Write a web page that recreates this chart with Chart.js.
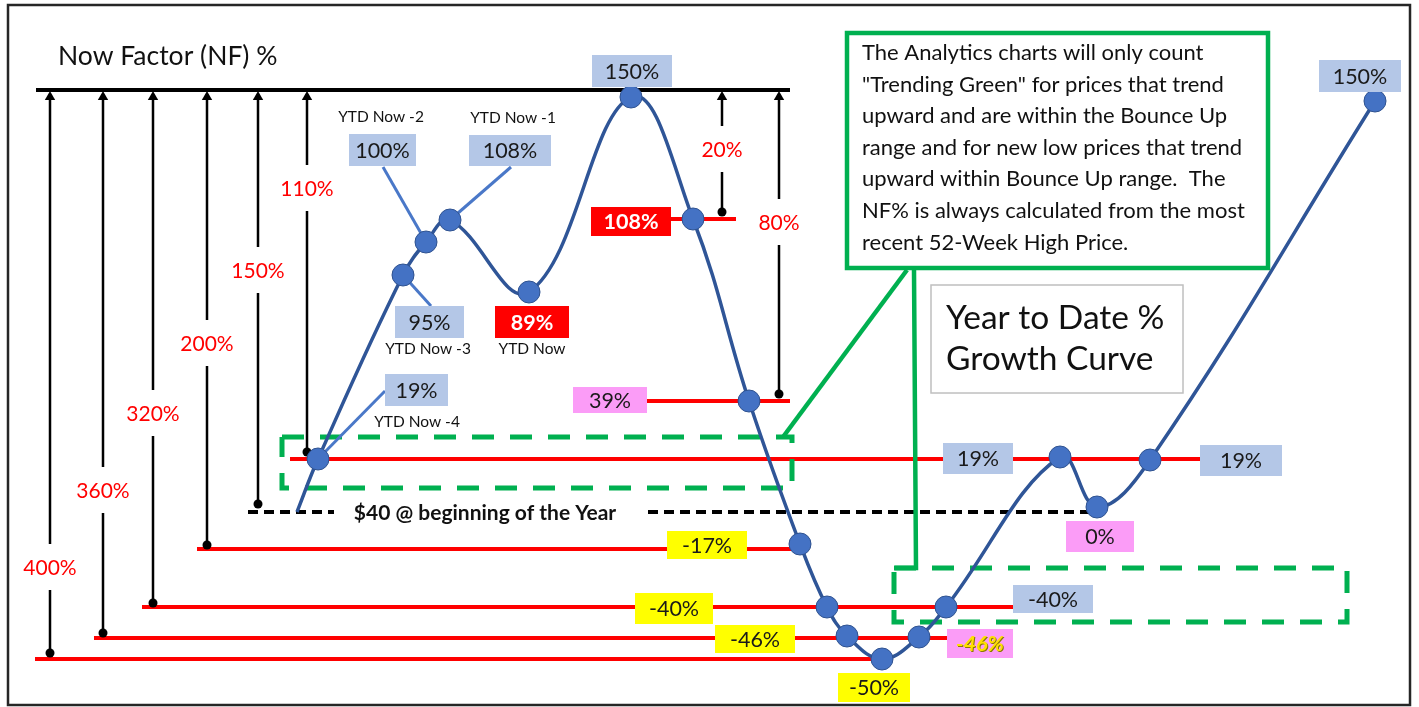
<!DOCTYPE html>
<html>
<head>
<meta charset="utf-8">
<script src="https://cdn.jsdelivr.net/npm/chart.js@4.4.1/dist/chart.umd.min.js"></script>
<style>
  html, body { margin: 0; padding: 0; background: #fff; }
  #wrap { width: 1419px; height: 707px; }
</style>
</head>
<body>
<div id="wrap"><canvas id="nfChart" width="1419" height="707"></canvas></div>
<script>
// YTD growth curve (x = time along the year, y = level on the sheet)
const curveX = [297, 318, 403, 426, 450, 529, 631, 693, 749, 800, 827, 847, 882, 919, 946, 1060, 1097, 1150, 1375];
const curveY = [512, 459, 275, 242, 220, 292, 97, 219, 401, 544, 607, 636, 659, 637, 607, 457, 507, 460, 101];
const curveMarked = [0, 1, 1, 1, 1, 1, 1, 1, 1, 1, 1, 1, 1, 1, 1, 1, 1, 1, 1];

// NF reference levels (red lines)
const levelNames = ['-50%', '-46%', '-40%', '-17%', '19%', '39%', '108%'];
const levelY = [659, 638, 607, 549, 459, 401, 219];
const levelFrom = [35, 94, 142, 197, 290, 647, 671];
const levelTo = [882, 947, 1013, 800, 1200, 790, 736];

// NF arrows up to the 52-week high line
const arrowNames = ['400%', '360%', '320%', '200%', '150%', '110%', '20%', '80%'];
const arrowX = [50, 103, 153, 207, 258, 307, 722, 779];
const arrowFrom = [653, 633, 603, 545, 504, 452, 212, 394];
const arrowLabelY = [567, 490, 413, 343, 270, 188, 149, 222];
const highY = 90;
const highFrom = 36, highTo = 790;

// $40 start of the year
const startY = 512;
const startFrom = 248, startTo = 1090;
const startText = '$40 @ beginning of the Year';

// value tags on the curve
const tagText = ['150%', '100%', '108%', '95%', '19%', '89%', '108%', '39%', '-17%', '-40%', '-46%', '-50%', '-46%', '-40%', '19%', '0%', '19%', '150%'];
const tagKind = ['blue', 'blue', 'blue', 'blue', 'blue', 'red', 'red', 'pink', 'yellow', 'yellow', 'yellow', 'yellow', 'pinkItalic', 'blue', 'blue', 'pink', 'blue', 'blue'];

const ytdText = ['YTD Now -2', 'YTD Now -1', 'YTD Now -3', 'YTD Now', 'YTD Now -4'];

const noteLines = [
  'The Analytics charts will only count',
  '"Trending Green" for prices that trend',
  'upward and are within the Bounce Up',
  'range and for new low prices that trend',
  'upward within Bounce Up range.  The',
  'NF% is always calculated from the most',
  'recent 52-Week High Price.'
];
const titleText = 'Now Factor (NF) %';
const growthText = ['Year to Date %', 'Growth Curve'];

// ---- layout (boxes, leader lines) ----
const tagBoxes = [
  [592, 55, 672, 87], [349, 134, 416, 166], [469, 135, 551, 166], [395, 306, 464, 338],
  [385, 374, 448, 406], [495, 306, 569, 338], [591, 207, 671, 236], [573, 387, 647, 413],
  [667, 531, 747, 559], [635, 593, 713, 624], [715, 625, 795, 653], [838, 673, 910, 702],
  [947, 629, 1013, 658], [1013, 585, 1093, 613], [943, 443, 1013, 474], [1066, 521, 1134, 552],
  [1200, 445, 1282, 476], [1319, 60, 1401, 92]
];
const ytdPos = [[381, 117], [513, 118], [428, 349], [532, 349], [417, 422]];
const leaders = [
  [[383, 167], [426, 242]], [[511, 167], [450, 220]],
  [[403, 275], [431, 306]], [[385, 391], [318, 459]]
];
const dashedBoxes = [[282, 437, 792, 488], [894, 568, 1347, 622]];
const noteBox = [847, 33, 1268, 268];
const growthBox = [931, 285, 1183, 393];

const FONT = 'Lato, "Open Sans", "DejaVu Sans", sans-serif';
const GREEN = '#00b050';
const tagStyle = {
  blue: { bg: '#b4c7e7', fg: '#1a1a1a', font: '21.5px ' + FONT },
  red: { bg: '#ff0000', fg: '#ffffff', font: 'bold 21.5px ' + FONT },
  pink: { bg: '#fb9cf7', fg: '#1a1a1a', font: '21.5px ' + FONT },
  yellow: { bg: '#ffff00', fg: '#1a1a1a', font: '21.5px ' + FONT },
  pinkItalic: { bg: '#fb9cf7', fg: '#ffe000', font: 'italic bold 21.5px ' + FONT }
};

const pts = (xs, ys) => xs.map((x, i) => ({ x: x, y: ys[i] }));
const datasets = [];

// curve on top
datasets.push({
  data: pts(curveX, curveY),
  showLine: true,
  tension: 0.4,
  borderColor: '#2f5597',
  borderWidth: 3.5,
  pointRadius: curveMarked.map(m => m ? 11 : 0),
  pointBackgroundColor: '#4472c4',
  pointBorderColor: '#2f528f',
  pointBorderWidth: 1,
  order: 0
});

leaders.forEach(l => datasets.push({
  data: l.map(p => ({ x: p[0], y: p[1] })),
  showLine: true, borderColor: '#4a78c8', borderWidth: 3, pointRadius: 0, order: 2
}));

levelY.forEach((y, i) => datasets.push({
  data: [{ x: levelFrom[i], y: y }, { x: levelTo[i], y: y }],
  showLine: true, borderColor: '#ff0000', borderWidth: 4, pointRadius: 0, order: 6
}));

datasets.push({
  data: [{ x: startFrom, y: startY }, { x: startTo, y: startY }],
  showLine: true, borderColor: '#000', borderWidth: 4, borderDash: [10, 6], pointRadius: 0, order: 5
});

datasets.push({
  data: [{ x: highFrom, y: highY }, { x: highTo, y: highY }],
  showLine: true, borderColor: '#000', borderWidth: 4, pointRadius: 0, order: 5
});

arrowX.forEach((x, i) => datasets.push({
  data: [{ x: x, y: arrowFrom[i] }, { x: x, y: highY + 7 }],
  showLine: true, borderColor: '#000', borderWidth: 2.5,
  pointStyle: ['circle', 'triangle'], pointRadius: [4.5, 6],
  pointBackgroundColor: '#000', pointBorderWidth: 0, order: 4
}));

dashedBoxes.forEach(b => datasets.push({
  data: [{ x: b[0], y: b[1] }, { x: b[2], y: b[1] }, { x: b[2], y: b[3] }, { x: b[0], y: b[3] }, { x: b[0], y: b[1] }],
  showLine: true, borderColor: GREEN, borderWidth: 5, borderDash: [22, 16], pointRadius: 0, order: 3
}));

// connectors from the note box
datasets.push({
  data: [{ x: 907, y: 270 }, { x: 783, y: 437 }],
  showLine: true, borderColor: GREEN, borderWidth: 4.5, pointRadius: 0, order: 3
});
datasets.push({
  data: [{ x: 914, y: 270 }, { x: 916, y: 568 }, { x: 895, y: 568 }],
  showLine: true, borderColor: GREEN, borderWidth: 4.5, pointRadius: 0, order: 3
});

const drawText = {
  id: 'drawText',
  afterDatasetsDraw(chart) {
    const ctx = chart.ctx;
    const sx = chart.scales.x, sy = chart.scales.y;
    const X = v => sx.getPixelForValue(v), Y = v => sy.getPixelForValue(v);
    ctx.save();
    ctx.textAlign = 'center';
    ctx.textBaseline = 'middle';

    // arrow labels in gaps
    ctx.font = '21px ' + FONT;
    arrowNames.forEach((t, i) => {
      const w = ctx.measureText(t).width + 6;
      ctx.fillStyle = '#fff';
      ctx.fillRect(X(arrowX[i]) - w / 2, Y(arrowLabelY[i]) - 23, w, 46);
      ctx.fillStyle = '#ff0000';
      ctx.fillText(t, X(arrowX[i]), Y(arrowLabelY[i]) + 1);
    });

    // start-of-year label
    ctx.fillStyle = '#fff';
    ctx.fillRect(X(334), Y(startY) - 12, X(647) - X(334), 24);
    ctx.font = 'bold 21px ' + FONT;
    ctx.fillStyle = '#111';
    ctx.fillText(startText, X(485), Y(startY) + 1);

    // value tags
    tagText.forEach((t, i) => {
      const b = tagBoxes[i], st = tagStyle[tagKind[i]];
      ctx.fillStyle = st.bg;
      ctx.fillRect(X(b[0]), Y(b[1]), X(b[2]) - X(b[0]), Y(b[3]) - Y(b[1]));
      ctx.font = st.font;
      if (tagKind[i] === 'pinkItalic') {
        ctx.fillStyle = '#8a7a00';
        ctx.fillText(t, X((b[0] + b[2]) / 2) + 1, Y((b[1] + b[3]) / 2) + 2);
      }
      ctx.fillStyle = st.fg;
      ctx.fillText(t, X((b[0] + b[2]) / 2), Y((b[1] + b[3]) / 2) + 1);
    });

    // YTD captions
    ctx.font = '15.5px ' + FONT;
    ctx.fillStyle = '#111';
    ytdText.forEach((t, i) => ctx.fillText(t, X(ytdPos[i][0]), Y(ytdPos[i][1])));

    // note box
    ctx.fillStyle = '#fff';
    ctx.fillRect(X(noteBox[0]), Y(noteBox[1]), X(noteBox[2]) - X(noteBox[0]), Y(noteBox[3]) - Y(noteBox[1]));
    ctx.strokeStyle = GREEN;
    ctx.lineWidth = 4.5;
    ctx.strokeRect(X(noteBox[0]), Y(noteBox[1]), X(noteBox[2]) - X(noteBox[0]), Y(noteBox[3]) - Y(noteBox[1]));
    ctx.textAlign = 'left';
    ctx.font = '22px ' + FONT;
    ctx.fillStyle = '#111';
    noteLines.forEach((t, i) => ctx.fillText(t, X(862), Y(53 + i * 31.6)));

    // growth curve box
    ctx.fillStyle = '#fff';
    ctx.fillRect(X(growthBox[0]), Y(growthBox[1]), X(growthBox[2]) - X(growthBox[0]), Y(growthBox[3]) - Y(growthBox[1]));
    ctx.strokeStyle = '#bfbfbf';
    ctx.lineWidth = 1.5;
    ctx.strokeRect(X(growthBox[0]), Y(growthBox[1]), X(growthBox[2]) - X(growthBox[0]), Y(growthBox[3]) - Y(growthBox[1]));
    ctx.font = '33.5px ' + FONT;
    ctx.fillStyle = '#111';
    ctx.fillText(growthText[0], X(946), Y(318));
    ctx.fillText(growthText[1], X(946), Y(359));

    // title
    ctx.font = '26.5px ' + FONT;
    ctx.fillText(titleText, X(58), Y(56));

    // outer frame
    ctx.strokeStyle = '#262626';
    ctx.lineWidth = 2.5;
    ctx.strokeRect(X(8), Y(5), X(1410) - X(8), Y(705) - Y(5));
    ctx.restore();
  }
};

new Chart(document.getElementById('nfChart'), {
  type: 'scatter',
  data: { datasets: datasets },
  options: {
    responsive: false,
    animation: false,
    events: [],
    layout: { padding: 0, autoPadding: false },
    plugins: { legend: { display: false }, tooltip: { enabled: false } },
    scales: {
      x: { type: 'linear', min: 0, max: 1419, display: false },
      y: { type: 'linear', min: 0, max: 707, reverse: true, display: false }
    }
  },
  plugins: [drawText]
});
</script>
</body>
</html>
